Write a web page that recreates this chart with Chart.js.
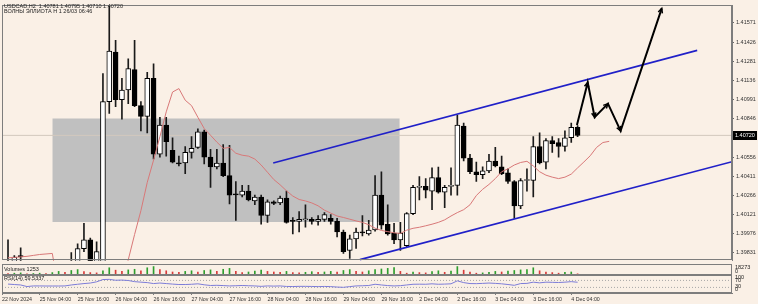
<!DOCTYPE html>
<html>
<head>
<meta charset="utf-8">
<script src="https://cdn.jsdelivr.net/npm/chart.js@4.4.1/dist/chart.umd.min.js"></script>
<style>
  body { margin: 0; background: #FAF0E6; }
  #wrap { position: relative; width: 758px; height: 304px; overflow: hidden; }
  canvas { position: absolute; left: 0; }
</style>
</head>
<body>
<div id="wrap">
  <canvas id="main" width="758" height="266" style="top:0"></canvas>
  <canvas id="vol" width="758" height="11" style="top:264px"></canvas>
  <canvas id="rsi" width="758" height="29" style="top:275px"></canvas>
</div>
<script>
// USDCAD H2, 22 Nov 18:00 .. 4 Dec 06:00
const opens = [1.3975,1.3972,1.3981,1.3970,1.3962,1.3960,1.3958,1.3955,1.3960,1.3965,
  1.3968,1.3975,1.39863,1.39930,1.3974,1.3975,1.40975,1.41350,1.40990,1.41063,
  1.41218,1.40945,1.40864,1.41151,1.40577,1.40798,1.40607,1.40510,1.40511,1.40592,
  1.40629,1.40747,1.40555,1.40482,1.40511,1.40415,1.40275,1.40268,1.40298,1.40224,
  1.40254,1.40114,1.40217,1.40209,1.40246,1.40077,1.40070,1.40082,1.40085,1.40070,
  1.40085,1.40092,1.40070,1.39989,1.39849,1.39937,1.39989,1.39974,1.40004,1.40268,
  1.40048,1.39981,1.39930,1.39886,1.40128,1.40327,1.40334,1.40298,1.40401,1.40290,
  1.40334,1.40342,1.40791,1.40548,1.40445,1.40423,1.40452,1.40526,1.40482,1.40437,
  1.40371,1.40187,1.40379,1.40379,1.40636,1.40518,1.40681,1.40665,1.40636,1.40702,
  1.40781];
const highs = [1.3993,1.3981,1.3987,1.3974,1.3968,1.3966,1.3964,1.3963,1.3968,1.3972,
  1.39834,1.39900,1.40055,1.39944,1.39915,1.41188,1.4175,1.41439,1.41151,1.41299,
  1.41439,1.40975,1.41196,1.41262,1.40857,1.40857,1.40702,1.40563,1.40636,1.40710,
  1.40769,1.40761,1.40614,1.40614,1.40651,1.40644,1.40371,1.40342,1.40342,1.40269,
  1.40268,1.40232,1.40224,1.40261,1.40298,1.40099,1.40143,1.40195,1.40099,1.40114,
  1.40136,1.40121,1.40092,1.40004,1.39966,1.40018,1.40114,1.40077,1.40416,1.40445,
  1.40195,1.40055,1.40062,1.40136,1.40342,1.40408,1.40393,1.40474,1.40481,1.40342,
  1.40474,1.40872,1.40813,1.40577,1.40518,1.40482,1.40577,1.40629,1.40563,1.40467,
  1.40379,1.40393,1.40467,1.40710,1.40739,1.40695,1.40710,1.40695,1.40754,1.40813,
  1.40795];
const lows = [1.3968,1.3969,1.3975,1.3958,1.3955,1.3952,1.3950,1.3949,1.3955,1.3960,
  1.3965,1.3970,1.39841,1.3970,1.3970,1.3970,1.40887,1.40938,1.40842,1.40960,
  1.40938,1.40754,1.40739,1.40541,1.40555,1.40563,1.40511,1.40489,1.40430,1.40548,
  1.40622,1.40504,1.40327,1.40467,1.40408,1.40202,1.40077,1.40254,1.40224,1.40195,
  1.40048,1.40062,1.40195,1.40195,1.40055,1.39974,1.39989,1.40026,1.40048,1.40040,
  1.40070,1.40048,1.39952,1.39827,1.39790,1.39864,1.39959,1.39966,1.39996,1.40011,
  1.39966,1.39900,1.39849,1.39878,1.40121,1.40231,1.40246,1.40158,1.40283,1.40173,
  1.40268,1.40268,1.40526,1.40430,1.40371,1.40393,1.40437,1.40482,1.40423,1.40357,
  1.40092,1.40165,1.40298,1.40254,1.40504,1.40467,1.40592,1.40555,1.40600,1.40666,
  1.40710];
const closes = [1.3972,1.3980,1.3980,1.3962,1.3960,1.3958,1.3955,1.3960,1.3965,1.3968,
  1.3975,1.39863,1.39930,1.3974,1.39841,1.40975,1.41358,1.40990,1.41063,1.41225,
  1.40945,1.40864,1.41151,1.40577,1.40798,1.40673,1.40518,1.40505,1.40592,1.40622,
  1.40747,1.40555,1.40482,1.40511,1.40415,1.40268,1.40270,1.40298,1.40231,1.40254,
  1.40114,1.40217,1.40205,1.40246,1.40062,1.40070,1.40085,1.40085,1.40070,1.40085,
  1.40121,1.40070,1.39989,1.39841,1.39937,1.39989,1.39982,1.40004,1.40268,1.40040,
  1.39974,1.39930,1.39981,1.40128,1.40327,1.40334,1.40305,1.40401,1.40290,1.40327,
  1.40339,1.40798,1.40548,1.40445,1.40423,1.40452,1.40526,1.40489,1.40430,1.40371,
  1.40187,1.40379,1.40382,1.40636,1.40511,1.40681,1.40658,1.40636,1.40702,1.40781,
  1.40720];

// moving average, drawn shifted 5 bars forward
const maValues = [1.39794,1.39797,1.39801,1.39805,1.39812,1.39819,1.39823,1.39827,
  1.3955,1.3952,1.3950,1.3949,1.3950,1.3951,1.3952,1.3953,1.3955,1.3958,1.3962,
  1.39779,1.39970,1.40151,1.40364,1.40533,1.40710,1.40898,1.41048,1.41074,1.40986,
  1.40945,1.40857,1.40772,1.40721,1.40669,1.40622,1.40629,1.40585,1.40570,1.40563,
  1.40541,1.40496,1.40441,1.40386,1.40346,1.40301,1.40261,1.40235,1.40224,1.40209,
  1.40187,1.40154,1.40132,1.40110,1.40099,1.40086,1.40073,1.40062,1.40044,1.40018,
  1.40001,1.39992,1.39983,1.39978,1.40003,1.40017,1.40025,1.40036,1.40048,1.40062,
  1.40081,1.40110,1.40136,1.40158,1.40195,1.40265,1.40312,1.40349,1.40393,1.40445,
  1.40467,1.40496,1.40515,1.40524,1.40489,1.40445,1.40419,1.40404,1.40393,1.40404,
  1.40427,1.40474,1.40519,1.40566,1.40629,1.40666,1.40675];

const volumes = [2500,3000,3500,2000,2500,3000,2500,4000,6000,4500,
  7500,9000,5500,4000,3500,7000,12000,8000,6000,8500,
  9500,7000,12000,14000,9000,7000,5000,4500,6000,7000,
  5000,7500,8500,6000,9500,11000,6000,4000,5000,6500,
  8000,6000,5000,4500,6000,4000,3500,4500,5500,4500,
  5000,6000,5000,7500,9000,6000,5000,7000,9000,10000,
  11000,12500,6000,3000,5000,4000,3500,5500,7000,4500,
  6500,14000,8000,5000,3000,3500,4500,6000,5000,6500,
  7500,8500,9000,12000,7000,5000,4000,3000,4500,5000,2000];
const volumeMax = 18273;

const rsiValues = [49,46.5,44,35,38.5,38.5,38,38,38,38.5,
  44,48,52,55,62,75,76,71,72,69.5,
  63,60,57.5,52,55,52,49,46.5,46.5,48,
  50.5,45,41,42,40.5,38.5,39.5,41,39.5,38.5,
  36,38.5,37.5,38.5,35.5,35,36,36,35.5,34.5,
  35.5,34.5,32,30.5,34.5,38.5,39.5,41,48,44,
  40.5,38.5,40,44,48,48.5,48,50.5,48,49,
  50.5,67.5,57.5,52,51.5,53,55,53,50.5,46.5,
  42,52,53,60,56,60,59,58,60,63,59.5];
const rsiLevels = [70, 30];

const priceTicks = [1.39831,1.39976,1.40121,1.40266,1.40411,1.40556,1.40701,
  1.40846,1.40991,1.41136,1.41281,1.41426,1.41571];
const timeTickBars = [-0.95,5,11,17,23,29,35,41,47,53,59,65,71,77,83,89];
const timeLabels = ['22 Nov 2024','25 Nov 04:00','25 Nov 16:00','26 Nov 04:00','26 Nov 16:00',
  '27 Nov 04:00','27 Nov 16:00','28 Nov 04:00','28 Nov 16:00','29 Nov 04:00','29 Nov 16:00',
  '2 Dec 04:00','2 Dec 16:00','3 Dec 04:00','3 Dec 16:00','4 Dec 04:00'];

// drawn objects (bar index, price)
const zoneBars = [7.0, 61.9];
const zonePrices = [1.40848, 1.40064];
const upperChannelBars = [41.9, 108.9];
const upperChannelPrices = [1.40511, 1.41363];
const lowerChannelBars = [55.6, 114.4];
const lowerChannelPrices = [1.39780, 1.40521];
const waveBars = [89.9, 91.6, 92.7, 94.8, 96.8, 103.3];
const wavePrices = [1.40798, 1.41120, 1.40857, 1.40960, 1.40754, 1.41681];
const lastPrice = 1.40720;

const xMin = -0.95, xMax = 114.4;
const FONT = 'Liberation Sans';

const pts = (xs, ys) => xs.map((x, i) => ({ x: x, y: ys[i] }));
const idx = opens.map((_, i) => i);

// frame + free text per panel
const framePlugin = {
  id: 'frame',
  afterDraw(chart, args, opts) {
    const { ctx, chartArea: a } = chart;
    ctx.save();
    ctx.strokeStyle = '#7d7d7d';
    ctx.lineWidth = 1;
    ctx.strokeRect(Math.round(a.left) + 0.5, Math.round(a.top) + 0.5,
      Math.round(a.width) - 1, Math.round(a.height) - 1);
    ctx.font = '5.5px "' + FONT + '"';
    ctx.fillStyle = '#222';
    ctx.textBaseline = 'middle';
    (opts.texts || []).forEach(t => {
      ctx.textAlign = 'left';
      ctx.fillText(t.text, t.x, t.y);
    });
    if (opts.lastPrice) {
      const y = chart.scales.y.getPixelForValue(opts.lastPrice);
      ctx.fillStyle = '#000';
      ctx.fillRect(a.right + 1, Math.round(y) - 4, 24, 9);
      ctx.fillStyle = '#fff';
      ctx.fillText(opts.lastPrice.toFixed(5), a.right + 3, Math.round(y) + 0.5);
    }
    ctx.restore();
  }
};

// open arrow heads at the end of every wave segment
const arrowPlugin = {
  id: 'arrowHeads',
  afterDatasetsDraw(chart) {
    const ctx = chart.ctx;
    chart.data.datasets.forEach((ds, di) => {
      if (!ds.arrowHeads) return;
      const p = chart.getDatasetMeta(di).data;
      ctx.save();
      ctx.strokeStyle = ds.borderColor;
      ctx.lineWidth = 1.5;
      for (let i = 1; i < p.length; i++) {
        const ang = Math.atan2(p[i].y - p[i - 1].y, p[i].x - p[i - 1].x);
        const L = 5;
        ctx.beginPath();
        ctx.moveTo(p[i].x - L * Math.cos(ang - 0.45), p[i].y - L * Math.sin(ang - 0.45));
        ctx.lineTo(p[i].x, p[i].y);
        ctx.lineTo(p[i].x - L * Math.cos(ang + 0.45), p[i].y - L * Math.sin(ang + 0.45));
        ctx.stroke();
      }
      ctx.restore();
    });
  }
};

// bar charts default to offset:true on x, which shifts the linear scale
const baseX = {
  type: 'linear', min: xMin, max: xMax, display: false,
  offset: false, grid: { offset: false }
};

// ---- price panel
new Chart(document.getElementById('main'), {
  type: 'bar',
  data: {
    datasets: [
      {
        type: 'line', label: 'zone', order: 10,
        data: pts(zoneBars, [zonePrices[0], zonePrices[0]]),
        borderWidth: 0, pointRadius: 0, backgroundColor: '#C0C0C0',
        fill: { value: zonePrices[1] }
      },
      {
        type: 'line', label: 'bid', order: 9,
        data: pts([xMin, xMax], [lastPrice, lastPrice]),
        borderColor: '#D2C8BE', borderWidth: 1, pointRadius: 0
      },
      {
        label: 'wicks', order: 4, grouped: false,
        data: idx.map(i => ({ x: i, y: [lows[i], highs[i]] })),
        backgroundColor: '#1a1a1a', barThickness: 1, borderWidth: 0
      },
      {
        label: 'bodies', order: 3, grouped: false,
        data: idx.map(i => ({ x: i, y: [opens[i], closes[i]] })),
        backgroundColor: idx.map(i => closes[i] >= opens[i] ? '#ffffff' : '#000000'),
        borderColor: '#000', borderWidth: 1, borderSkipped: false,
        barThickness: 5, minBarLength: 1
      },
      {
        type: 'line', label: 'MA', order: 2,
        data: maValues.map((v, i) => ({ x: i, y: v })),
        borderColor: '#D87878', borderWidth: 1, pointRadius: 0, tension: 0
      },
      {
        type: 'line', label: 'upper', order: 1,
        data: pts(upperChannelBars, upperChannelPrices),
        borderColor: '#2020C8', borderWidth: 1.6, pointRadius: 0
      },
      {
        type: 'line', label: 'lower', order: 1,
        data: pts(lowerChannelBars, lowerChannelPrices),
        borderColor: '#2020C8', borderWidth: 1.6, pointRadius: 0
      },
      {
        type: 'line', label: 'waves', order: 0, arrowHeads: true,
        data: pts(waveBars, wavePrices),
        borderColor: '#000', borderWidth: 2, pointRadius: 0
      }
    ]
  },
  options: {
    responsive: false, animation: false, events: [],
    layout: { padding: { left: 2, top: 2, bottom: 2, right: 0 } },
    plugins: {
      legend: { display: false }, tooltip: { enabled: false },
      frame: {
        texts: [
          { text: 'USDCAD,H2  1.40781 1.40795 1.40710 1.40720', x: 4, y: 6 },
          { text: 'ВОЛНЫ ЭЛЛИОТА H 1 26/03 06:46', x: 4, y: 11.5 }
        ],
        lastPrice: lastPrice
      }
    },
    scales: {
      x: baseX,
      y: {
        position: 'right', min: 1.39772, max: 1.41704,
        afterFit: s => { s.width = 26; },
        afterBuildTicks: s => { s.ticks = priceTicks.map(v => ({ value: v })); },
        ticks: {
          callback: v => v.toFixed(5), padding: 2,
          font: { family: FONT, size: 5.5 }, color: '#333'
        },
        grid: { drawOnChartArea: false, tickLength: 2, color: '#666' },
        border: { color: '#7d7d7d' }
      }
    }
  },
  plugins: [framePlugin, arrowPlugin]
});

// ---- volume panel
new Chart(document.getElementById('vol'), {
  type: 'bar',
  data: {
    datasets: [{
      data: volumes.map((v, i) => ({ x: i, y: v })),
      backgroundColor: volumes.map((v, i) => i > 0 && v > volumes[i - 1] ? '#2E9E2E' : '#D83A3A'),
      barThickness: 1, grouped: false
    }]
  },
  options: {
    responsive: false, animation: false, events: [],
    layout: { padding: { left: 2, right: 26, top: 0, bottom: 0 } },
    plugins: {
      legend: { display: false }, tooltip: { enabled: false },
      frame: {
        texts: [
          { text: 'Volumes 1253', x: 4, y: 5 },
          { text: String(volumeMax), x: 735, y: 3.5 },
          { text: '0', x: 735, y: 7.5 }
        ]
      }
    },
    scales: {
      x: baseX,
      y: { display: false, min: 0, max: volumeMax }
    }
  },
  plugins: [framePlugin]
});

// ---- RSI panel + time axis
new Chart(document.getElementById('rsi'), {
  type: 'line',
  data: {
    datasets: [
      {
        data: rsiValues.map((v, i) => ({ x: i, y: v })),
        borderColor: '#7C7CD8', borderWidth: 1, pointRadius: 0
      },
      ...rsiLevels.map(l => ({
        data: pts([xMin, xMax], [l, l]),
        borderColor: '#A8A8A8', borderWidth: 1, borderDash: [1, 2], pointRadius: 0
      }))
    ]
  },
  options: {
    responsive: false, animation: false, events: [],
    layout: { padding: { left: 2, right: 26, top: 0, bottom: 0 } },
    plugins: {
      legend: { display: false }, tooltip: { enabled: false },
      frame: {
        texts: [
          { text: 'RSI(14) 59.5337', x: 4, y: 3.5 },
          { text: '100', x: 735, y: 2.5 },
          { text: '70', x: 735, y: 5.5 },
          { text: '30', x: 735, y: 11.5 },
          { text: '0', x: 735, y: 14 }
        ]
      }
    },
    scales: {
      x: {
        type: 'linear', min: xMin, max: xMax, position: 'bottom',
        afterFit: s => { s.height = 11; },
        afterBuildTicks: s => { s.ticks = timeTickBars.map(v => ({ value: v })); },
        ticks: {
          callback: (v, i) => timeLabels[i], align: 'start', maxRotation: 0,
          autoSkip: false, padding: 1,
          font: { family: FONT, size: 5.3 }, color: '#333'
        },
        grid: { drawOnChartArea: false, tickLength: 2, color: '#7d7d7d' },
        border: { color: '#7d7d7d' }
      },
      y: { display: false, min: -2, max: 101 }
    }
  },
  plugins: [framePlugin]
});
</script>
</body>
</html>
